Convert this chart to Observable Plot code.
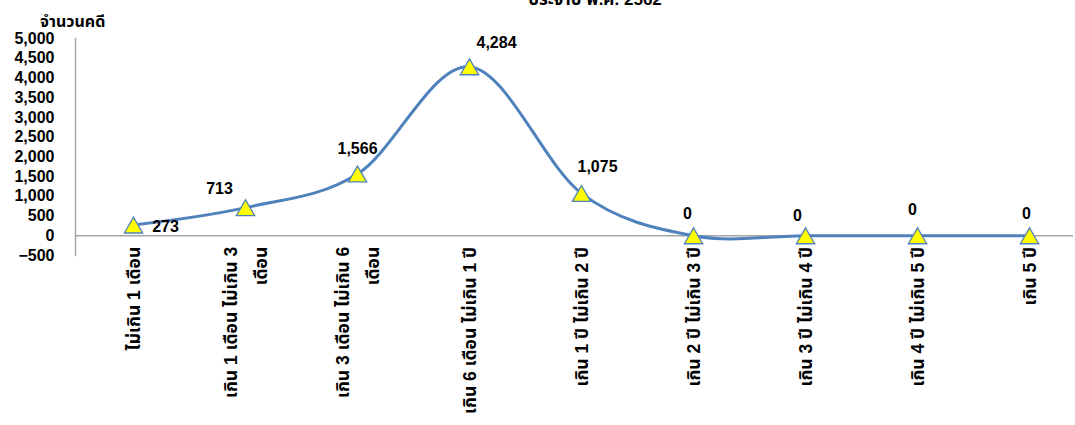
<!DOCTYPE html>
<html>
<head>
<meta charset="utf-8">
<script src="https://cdn.jsdelivr.net/npm/d3@7"></script>
<script src="https://cdn.jsdelivr.net/npm/@observablehq/plot@0.6"></script>
<style>
  html, body { margin: 0; padding: 0; background: #fff; overflow: hidden; }
  #wrap { position: relative; width: 1075px; height: 425px; overflow: hidden; font-family: "Liberation Sans", Arial, "Noto Sans Thai", sans-serif; }
  #title { position: absolute; top: -13px; left: 0; width: 1190px; text-align: center; font-weight: bold; font-size: 17px; color: #000; white-space: nowrap; }
  #ylab { position: absolute; top: 10px; left: 40px; font-weight: bold; font-size: 16px; color: #000; }
  svg { position: absolute; top: 0; left: 0; }
</style>
</head>
<body>
<div id="wrap">
  <div id="title">ประจำปี พ.ศ. 2562</div>
  <div id="ylab">จำนวนคดี</div>
  <div id="chart"></div>
</div>
<script>
const categories = [
  "ไม่เกิน 1 เดือน",
  "เกิน 1 เดือน ไม่เกิน 3\nเดือน",
  "เกิน 3 เดือน ไม่เกิน 6\nเดือน",
  "เกิน 6 เดือน ไม่เกิน 1 ปี",
  "เกิน 1 ปี ไม่เกิน 2 ปี",
  "เกิน 2 ปี ไม่เกิน 3 ปี",
  "เกิน 3 ปี ไม่เกิน 4 ปี",
  "เกิน 4 ปี ไม่เกิน 5 ปี",
  "เกิน 5 ปี"
];
const cases = [273, 713, 1566, 4284, 1075, 0, 0, 0, 0];
const yTicks = [-500, 0, 500, 1000, 1500, 2000, 2500, 3000, 3500, 4000, 4500, 5000];

// label placement (styling, pixel offsets from each point)
const labelDx = [32, -26, 0, 27, 16, -6, -8, -5, -3];
const labelDy = [2, -19, -25, -24, -26, -22, -20, -26, -22];

const data = categories.map((c, i) => ({cat: c, value: cases[i], i}));
const fmt = d3.format(",");
const font = `"Liberation Sans", Arial, "Noto Sans Thai", sans-serif`;

const labelMarks = data.map(d => Plot.text([d], {
  x: "cat", y: "value", text: dd => fmt(dd.value),
  dx: labelDx[d.i], dy: labelDy[d.i],
  fontSize: 16, fontWeight: "bold", fill: "#000"
}));

const tickMarks = data.map(d => Plot.text([d], {
  x: "cat", y: () => 0, text: "cat",
  rotate: -90, textAnchor: "end", lineAnchor: "middle", lineHeight: 1.7,
  dx: -3, dy: 11, fontSize: 17.5, fontWeight: "bold", fill: "#000"
}));

const chart = Plot.plot({
  width: 1075,
  height: 425,
  marginLeft: 75,
  marginRight: 2,
  marginTop: 38,
  marginBottom: 170,
  style: {fontFamily: font, background: "transparent"},
  x: {type: "point", domain: categories, range: [131, 1031], padding: 0, axis: null},
  y: {domain: [-500, 5000], axis: null},
  marks: [
    Plot.ruleY([0], {stroke: "#a6a6a6", strokeWidth: 1.5}),
    Plot.frame({anchor: "left", stroke: "#a6a6a6", strokeWidth: 1.5}),
    Plot.text(yTicks, {
      frameAnchor: "left", y: d => d, text: d => fmt(d),
      textAnchor: "end", dx: -21, fontSize: 16, fontWeight: "bold", fill: "#000"
    }),
    Plot.line(data, {x: "cat", y: "value", curve: "cardinal", tension: 0, stroke: "#4f81bd", strokeWidth: 3}),
    Plot.dot(data, {x: "cat", y: "value", symbol: "triangle", r: 6.8, dy: 2.7, fill: "#ffff00", stroke: "#4f81bd", strokeWidth: 1.3}),
    ...labelMarks,
    ...tickMarks
  ]
});
document.getElementById("chart").appendChild(chart);
</script>
</body>
</html>
